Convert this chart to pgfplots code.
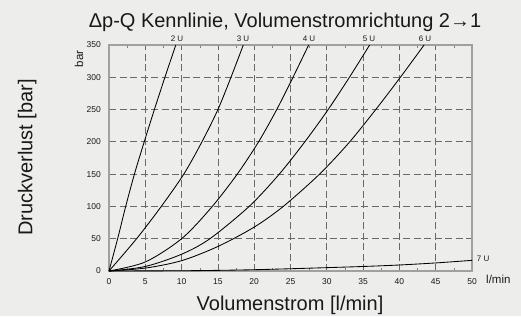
\documentclass[border=0pt]{standalone}
\usepackage{fontspec}
\setmainfont{Liberation Sans}
\usepackage{pgfplots}
\pgfplotsset{compat=1.18}
\definecolor{bg}{RGB}{237,238,236}
\definecolor{gridc}{RGB}{105,105,105}
\definecolor{framec}{RGB}{160,160,160}
\definecolor{txt}{RGB}{25,25,25}
\begin{document}
\begin{tikzpicture}[x=1pt,y=1pt]
\path[use as bounding box, fill=bg] (0,0) rectangle (521,316);
\begin{axis}[
  at={(109pt,45pt)}, anchor=south west,
  scale only axis, width=363pt, height=226pt,
  xmin=0, xmax=50, ymin=0, ymax=350,
  xtick={0,5,...,50}, ytick={0,50,...,350},
  minor x tick num=1,
  major tick length=0pt, minor tick length=3pt,
  tick style={draw=gray},
  grid=major,
  major grid style={dash pattern=on 7pt off 3.5pt, color=gridc, line width=0.75pt},
  axis line style={draw=framec, line width=1.2pt},
  /pgf/number format/assume math mode=true,
  xticklabel style={font=\fontsize{8.5}{10}\selectfont, text=txt, anchor=base, yshift=-13.3pt, inner sep=0pt},
  yticklabel style={font=\fontsize{8.5}{10}\selectfont, text=txt, anchor=east, inner sep=0pt, xshift=-8pt},
  clip=false,
  curve/.style={black, line width=0.85pt, smooth, tension=0.5, no marks},
]
% 2 U
\addplot[curve] coordinates {(0,0)(1.19,50)(2.3,100)(3.5,150)(4.85,200)(6.25,250)(7.7,300)(9.2,350)};
% 3 U
\addplot[curve] coordinates {(0,0)(3.8,50)(7.2,100)(10.3,150)(12.8,200)(15.0,250)(16.8,300)(18.5,350)};
% 4 U
\addplot[curve] coordinates {(0,0)(5,14)(10,50)(14,97)(17.6,149)(20.6,200)(23.1,250)(25.3,299)(27.5,350)};
% 5 U
\addplot[curve] coordinates {(0,0)(5,7)(10,26)(13.9,50)(19.3,100)(23.3,148)(26.7,196)(30.0,247)(33.0,298)(35.9,350)};
% 6 U
\addplot[curve] coordinates {(0,0)(5,4.5)(10,16)(15,38)(20,68)(24,100)(29,150)(33,198)(36.6,248)(40,298)(43.4,350)};
% 7 U
\addplot[curve] coordinates {(0,0)(10,0.4)(15,1)(20,2)(25,3.5)(30,5.2)(35,7)(40,9.3)(45,12.5)(50,16.5)};
\end{axis}
\begin{scope}[every node/.style={text=txt, inner sep=0pt}]
\node[anchor=base, font=\fontsize{20}{24}\selectfont] at (285,288) {Δp-Q Kennlinie, Volumenstromrichtung 2→1};
\node[anchor=base, rotate=90, font=\fontsize{20}{24}\selectfont] at (32.3,158.5) {Druckverlust [bar]};
\node[anchor=base, font=\fontsize{20}{24}\selectfont] at (290,6) {Volumenstrom [l/min]};
\node[anchor=base, rotate=90, font=\fontsize{11.5}{13}\selectfont] at (83,257) {bar};
\node[anchor=base west, font=\fontsize{11.5}{13}\selectfont] at (486,32.7) {l/min};
\node[anchor=base west, font=\fontsize{8}{9}\selectfont] at (476.7,54.3) {7 U};
\node[anchor=base, font=\fontsize{8}{9}\selectfont] at (177,274.3) {2 U};
\node[anchor=base, font=\fontsize{8}{9}\selectfont] at (243,274.3) {3 U};
\node[anchor=base, font=\fontsize{8}{9}\selectfont] at (309,274.3) {4 U};
\node[anchor=base, font=\fontsize{8}{9}\selectfont] at (369,274.3) {5 U};
\node[anchor=base, font=\fontsize{8}{9}\selectfont] at (425,274.3) {6 U};
\end{scope}
\end{tikzpicture}
\end{document}
